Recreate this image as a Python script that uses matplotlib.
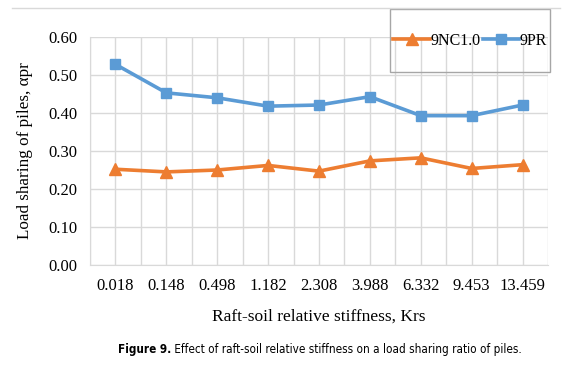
import matplotlib
matplotlib.use("Agg")
from matplotlib import pyplot as plt
from matplotlib.lines import Line2D
from matplotlib.patches import Rectangle
import numpy as np

# data
krs_labels = ["0.018", "0.148", "0.498", "1.182", "2.308", "3.988", "6.332", "9.453", "13.459"]
nc_values = [0.252, 0.245, 0.250, 0.262, 0.247, 0.274, 0.282, 0.254, 0.264]
pr_values = [0.528, 0.453, 0.440, 0.418, 0.421, 0.443, 0.393, 0.393, 0.421]
y_ticks = [0.0, 0.1, 0.2, 0.3, 0.4, 0.5, 0.6]

orange = "#ED7D31"
blue = "#5B9BD5"
grid_c = "#D9D9D9"

plt.rcParams["font.family"] = ["Liberation Serif", "DejaVu Serif"]

fig = plt.figure(figsize=(5.83, 3.70), dpi=100)
ax = fig.add_axes([90/583, 1-265/370, (548-90)/583, (265-37)/370])

x = np.arange(len(krs_labels))
ax.plot(x, nc_values, color=orange, lw=2.6, marker="^", markersize=8, label="9NC1.0")
ax.plot(x, pr_values, color=blue, lw=2.6, marker="s", markersize=7, label="9PR")

ax.set_xlim(-0.5, len(krs_labels) - 0.5)
ax.set_ylim(0, 0.6)
ax.set_yticks(y_ticks)
ax.set_yticklabels(["%.2f" % v for v in y_ticks], fontsize=12)
ax.set_xticks(x)
ax.set_xticklabels(krs_labels, fontsize=12)
ax.set_xticks(np.arange(-0.5, len(krs_labels), 1.0), minor=True)
ax.tick_params(length=0, which="both")
ax.tick_params(axis="x", pad=9)
ax.tick_params(axis="y", pad=9)

# gridlines at centers and boundaries
ax.grid(True, which="both", axis="x", color=grid_c, lw=1)
ax.grid(True, which="major", axis="y", color=grid_c, lw=1)
ax.set_axisbelow(True)
for s in ["top", "right"]:
    ax.spines[s].set_visible(False)
ax.spines["left"].set_color(grid_c)
ax.spines["bottom"].set_color(grid_c)

ax.set_ylabel("Load sharing of piles, \u03b1pr", fontsize=12.3, labelpad=11)
ax.set_xlabel("Raft-soil relative stiffness, Krs", fontsize=12.5, labelpad=11)

# chart border top line
fig.add_artist(Line2D([12/583, 560/583], [1-8/370, 1-8/370], color=grid_c, lw=1,
                      transform=fig.transFigure))

# legend box drawn by hand, entries centered inside
fig.add_artist(Rectangle((390/583, 1-72/370), 160/583, 63/370, fill=False,
                         edgecolor="#A6A6A6", lw=1, transform=fig.transFigure))
leg = fig.legend(loc="center", bbox_to_anchor=(470/583, 1-41/370), ncol=2,
                 fontsize=11.5, frameon=False, handlelength=2.3,
                 handletextpad=0.0, columnspacing=0.15, borderpad=0,
                 borderaxespad=0)

# caption
cap_font = ["DejaVu Sans", "Roboto"]
t1 = fig.text(118/583, 1-353/370, "Figure 9.", fontsize=8.4, fontweight="bold",
              family=cap_font, fontstretch="condensed", va="baseline")
ax.annotate(" Effect of raft-soil relative stiffness on a load sharing ratio of piles.",
            xy=(1, 0), xycoords=t1, va="bottom", ha="left", fontsize=8.4,
            family=cap_font, fontstretch="condensed", annotation_clip=False)

fig.savefig("out.png", dpi=100)
